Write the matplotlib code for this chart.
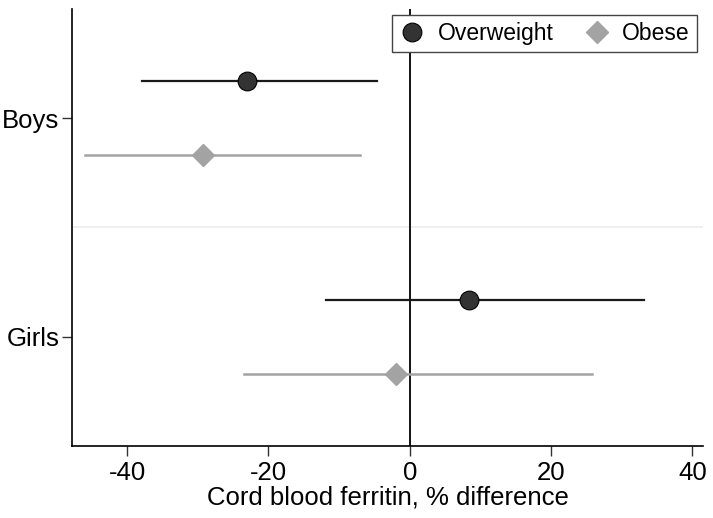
import matplotlib.pyplot as plt
from matplotlib.lines import Line2D

plt.rcParams['font.family'] = ['Liberation Sans', 'DejaVu Sans']
plt.rcParams['axes.unicode_minus'] = False

# Data
groups = ['Boys', 'Girls']
ow_est = [-23.1, 8.35]
ow_lo = [-37.9, -11.85]
ow_hi = [-4.7, 33.2]
ob_est = [-29.2, -1.9]
ob_lo = [-46.0, -23.5]
ob_hi = [-7.0, 25.8]

ypos = [1, 0]
off = 0.17

fig = plt.figure(figsize=(7.13, 5.18), dpi=100)
ax = fig.add_axes([0.101, 0.139, 0.885, 0.844])

ax.axhline(0.5, color='#ececec', lw=1.2, zorder=1)
ax.axvline(0, color='black', lw=1.3, zorder=2)

dark = '#333333'
grey = '#a3a3a3'

for i, y in enumerate(ypos):
    ax.plot([ow_lo[i], ow_hi[i]], [y + off, y + off], color='#1a1a1a', lw=1.6, zorder=3)
    ax.plot(ow_est[i], y + off, 'o', ms=13.5, color=dark, mec='black', mew=0.8, zorder=4)
    ax.plot([ob_lo[i], ob_hi[i]], [y - off, y - off], color=grey, lw=1.8, zorder=3)
    ax.plot(ob_est[i], y - off, 'D', ms=11.5, color=grey, mec=grey, zorder=4)

ax.set_xlim(-47.8, 41.5)
ax.set_ylim(-0.5, 1.5)
ax.set_xticks([-40, -20, 0, 20, 40])
ax.set_yticks(ypos)
ax.set_yticklabels(groups)
ax.tick_params(axis='both', labelsize=18.5, length=7, width=1, colors='#333333', labelcolor='black')
ax.tick_params(axis='y', pad=2)
ax.set_xlabel('Cord blood ferritin, % difference', fontsize=18.5, labelpad=1)

for s in ['top', 'right']:
    ax.spines[s].set_visible(False)
for s in ['left', 'bottom']:
    ax.spines[s].set_linewidth(1.2)

handles = [
    Line2D([], [], ls='none', marker='o', ms=13.5, color=dark, mec='black', mew=0.8),
    Line2D([], [], ls='none', marker='D', ms=11.5, color=grey, mec=grey),
]
leg = ax.legend(handles, ['Overweight', 'Obese'], ncol=2, loc='upper right',
                bbox_to_anchor=(0.99, 0.985), fontsize=16.5, frameon=True, fancybox=False,
                edgecolor='#444444', framealpha=1, handletextpad=0.5, columnspacing=1.3,
                borderpad=0.3, handlelength=1.2, borderaxespad=0)
leg.get_frame().set_linewidth(1.0)

fig.savefig('out.png', dpi=100)
